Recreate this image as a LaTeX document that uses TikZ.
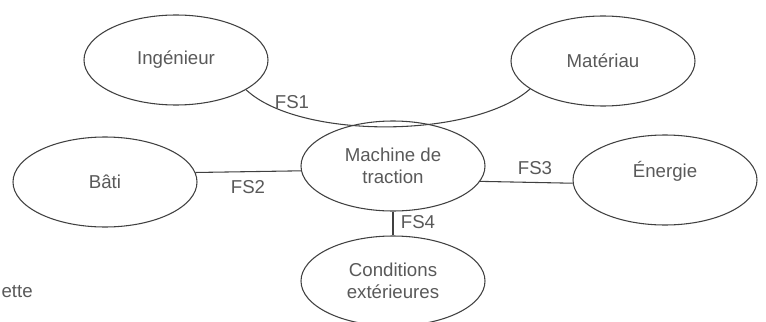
\documentclass[tikz,border=0pt]{standalone}
\usepackage{fontspec}
\setmainfont{Liberation Sans}
\usetikzlibrary{shapes.geometric}

\begin{document}
\begin{tikzpicture}[x=0.75pt,y=-0.75pt,
  bulle/.style={draw=black!75, line width=0.8pt, ellipse, minimum width=138pt,
    minimum height=67.5pt, inner sep=0pt, align=center, text=black!65,
    font=\fontsize{14}{16.2}\selectfont},
  lien/.style={draw=black!75, line width=0.8pt},
  fs/.style={text=black!65, inner sep=0pt, font=\fontsize{14}{16.2}\selectfont}]
  \useasboundingbox (0,0) rectangle (766,321);

  \node[bulle] (ing)  at (176,60)  {Ingénieur};
  \node[bulle] (mat)  at (603,61)  {Matériau};
  \node[bulle] (bati) at (105,182) {Bâti};
  \node[bulle] (mach) at (393,166) {Machine de\\traction};
  \node[bulle] (ener) at (665,180) {Énergie\\\mbox{}};
  \node[bulle] (cond) at (393,281) {Conditions\\extérieures};

  \draw[lien] (ing.-23) .. controls +(53,50) and +(-57,50) .. (mat.201);
  \draw[lien] (bati.6) -- (mach.183);
  \draw[lien] (mach.-10) -- (ener.182);
  \draw[lien] (mach.south) -- (cond.north);

  \node[fs] (fs1) at (292,102) {FS1};
  \node[fs] (fs2) at (248,187) {FS2};
  \node[fs] (fs3) at (535,168) {FS3};
  \node[fs] (fs4) at (418,222) {FS4};

  \node[fs, anchor=base east] (pal) at (33,297) {ette};
\end{tikzpicture}
\end{document}
